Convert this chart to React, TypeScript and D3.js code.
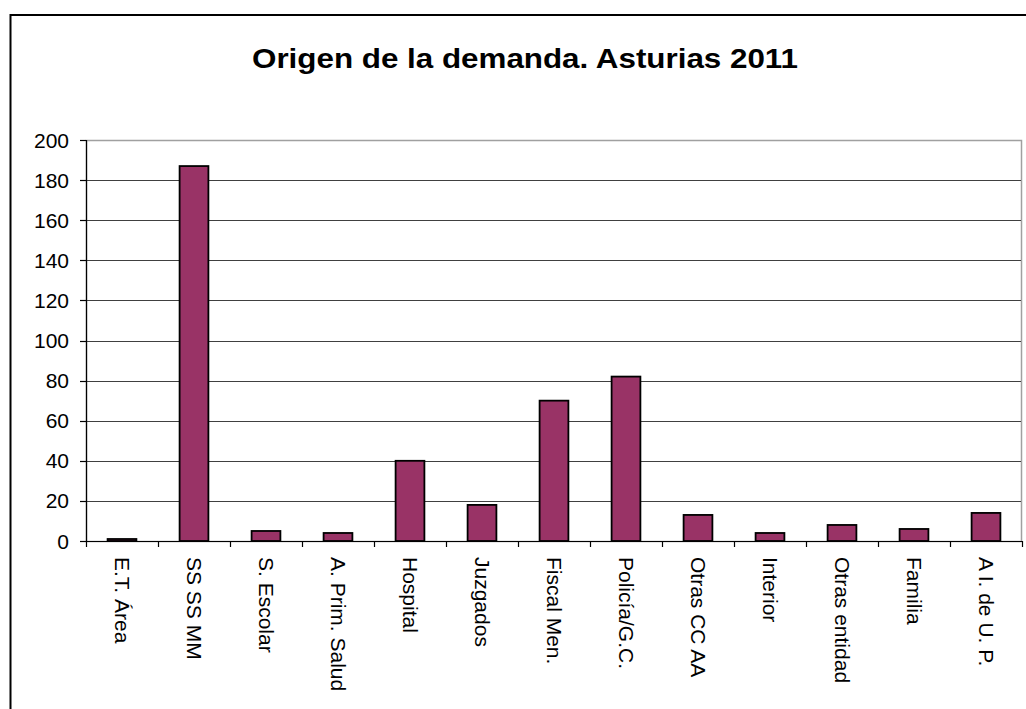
import React from "react";
import * as d3 from "d3";

const categories = [
  "E.T. Área",
  "SS SS MM",
  "S. Escolar",
  "A. Prim. Salud",
  "Hospital",
  "Juzgados",
  "Fiscal Men.",
  "Policía/G.C.",
  "Otras CC AA",
  "Interior",
  "Otras entidad",
  "Familia",
  "A I. de U. P.",
];
const values = [1, 187, 5, 4, 40, 18, 70, 82, 13, 4, 8, 6, 14];
const yTicks = [0, 20, 40, 60, 80, 100, 120, 140, 160, 180, 200];
const title = "Origen de la demanda. Asturias 2011";

const W = 1026;
const H = 709;
const plot = { left: 86, right: 1022, top: 140, bottom: 541 };
const font = "'Liberation Sans', Arial, sans-serif";

export default function App() {
  const x = d3
    .scaleBand<string>()
    .domain(categories)
    .range([plot.left, plot.right])
    .paddingInner(0)
    .paddingOuter(0);
  const y = d3.scaleLinear().domain([0, 200]).range([plot.bottom, plot.top]);
  const bw = x.bandwidth() / 2.5;

  return (
    <svg
      width={W}
      height={H}
      style={{ position: "absolute", left: 0, top: 0, background: "#fff" }}
      fontFamily={font}
    >
      <rect x={0} y={0} width={W} height={H} fill="#fff" />
      {/* outer frame */}
      <rect x={10.5} y={15} width={W + 40} height={H + 40} fill="none" stroke="#000" strokeWidth={2} />

      <text
        x={525}
        y={68}
        textAnchor="middle"
        fontSize={28}
        fontWeight="bold"
        textLength={546}
        lengthAdjust="spacingAndGlyphs"
        fill="#000"
      >
        {title}
      </text>

      {/* plot border (top/right) */}
      <rect
        x={plot.left + 0.5}
        y={plot.top + 0.5}
        width={plot.right - plot.left - 1}
        height={plot.bottom - plot.top}
        fill="none"
        stroke="#a0a0a0"
        strokeWidth={1.5}
      />

      {/* gridlines */}
      {yTicks.slice(1).map((t) => (
        <line
          key={"g" + t}
          x1={plot.left}
          x2={plot.right - 1}
          y1={Math.round(y(t)) + 0.5}
          y2={Math.round(y(t)) + 0.5}
          stroke={t === 200 ? "#a0a0a0" : "#404040"}
          strokeWidth={1.2}
        />
      ))}

      {/* bars */}
      {categories.map((c, i) => (
        <rect
          key={c}
          x={(x(c) as number) + x.bandwidth() / 2 - bw / 2}
          y={y(values[i])}
          width={bw}
          height={y(0) - y(values[i])}
          fill="#993366"
          stroke="#000"
          strokeWidth={1.8}
        />
      ))}

      {/* y axis */}
      <line x1={plot.left + 0.5} x2={plot.left + 0.5} y1={plot.top} y2={plot.bottom + 6} stroke="#000" strokeWidth={1.2} />
      {yTicks.map((t) => (
        <g key={"y" + t}>
          <line
            x1={plot.left - 6}
            x2={plot.left}
            y1={Math.round(y(t)) + 0.5}
            y2={Math.round(y(t)) + 0.5}
            stroke="#000"
            strokeWidth={1.2}
          />
          <text
            x={69}
            y={y(t)}
            textAnchor="end"
            dominantBaseline="central"
            fontSize={21}
            fill="#000"
          >
            {t}
          </text>
        </g>
      ))}

      {/* x axis */}
      <line x1={plot.left} x2={plot.right} y1={plot.bottom + 0.5} y2={plot.bottom + 0.5} stroke="#000" strokeWidth={1.2} />
      {categories.map((c, i) => (
        <line
          key={"xt" + i}
          x1={(x(c) as number) + x.bandwidth() + 0.5}
          x2={(x(c) as number) + x.bandwidth() + 0.5}
          y1={plot.bottom}
          y2={plot.bottom + 6}
          stroke="#000"
          strokeWidth={1.2}
        />
      ))}
      {categories.map((c) => {
        const cx = (x(c) as number) + x.bandwidth() / 2;
        const cy = 557;
        return (
          <text
            key={"xl" + c}
            transform={`translate(${cx},${cy}) rotate(90)`}
            dominantBaseline="central"
            textAnchor="start"
            fontSize={21}
            fill="#000"
          >
            {c}
          </text>
        );
      })}
    </svg>
  );
}
